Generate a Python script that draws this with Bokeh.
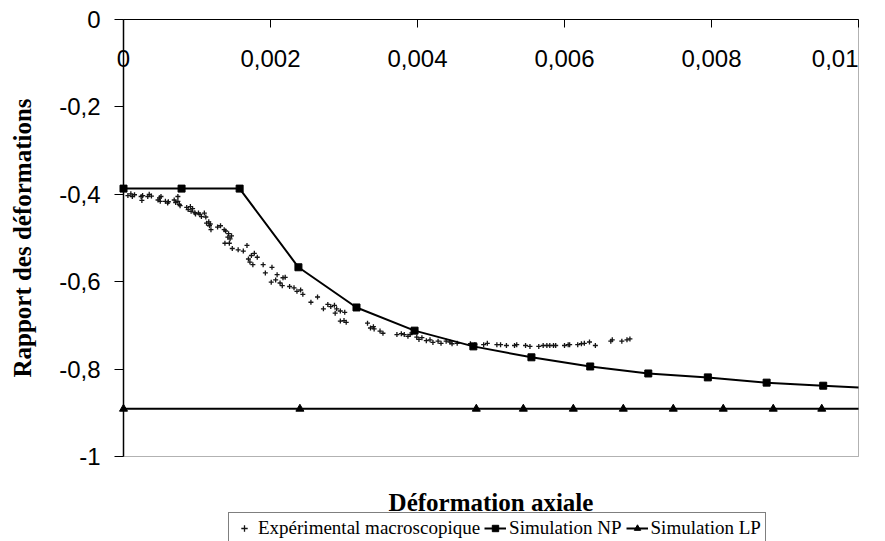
import math
from bokeh.plotting import figure
from bokeh.models import (Range1d, FixedTicker, Label, Legend, LegendItem, LinearAxis,
                          BoxAnnotation)
from bokeh.embed import file_html
from bokeh.resources import INLINE

# ---------------- data ----------------
exp_x = [0.00006, 0.00010, 0.00012, 0.00015, 0.00024, 0.00025, 0.00026, 0.00033, 0.00035, 0.00038,
         0.00047, 0.00049, 0.00051, 0.00050, 0.00057, 0.00060, 0.00061, 0.00069, 0.00071, 0.00074,
         0.00074, 0.00076, 0.00077, 0.00086, 0.00088, 0.00091, 0.00092, 0.00094, 0.00097, 0.00098,
         0.00102, 0.00104, 0.00106, 0.00110, 0.00112, 0.00113, 0.00116, 0.00118, 0.00117, 0.00119,
         0.00128, 0.00132, 0.00137, 0.00139, 0.00143, 0.00142, 0.00145, 0.00147, 0.00138, 0.00144,
         0.00148, 0.00156, 0.00163, 0.00168, 0.00170, 0.00172, 0.00174, 0.00176, 0.00178, 0.00182,
         0.00190, 0.00193, 0.00202, 0.00201, 0.00207, 0.00209, 0.00213, 0.00216, 0.00217, 0.00220,
         0.00226, 0.00232, 0.00236, 0.00241, 0.00244, 0.00255, 0.00264, 0.00272, 0.00278, 0.00282,
         0.00287, 0.00288, 0.00290, 0.00295, 0.00301, 0.00295, 0.00300, 0.00303, 0.00332, 0.00336,
         0.00340, 0.00341, 0.00349, 0.00353, 0.00372, 0.00378, 0.00382, 0.00387, 0.00390, 0.00399,
         0.00402, 0.00406, 0.00412, 0.00417, 0.00421, 0.00428, 0.00432, 0.00439, 0.00444, 0.00447,
         0.00454, 0.00472, 0.00478, 0.00490, 0.00495, 0.00508, 0.00513, 0.00521, 0.00532, 0.00535,
         0.00547, 0.00553, 0.00565, 0.00571, 0.00576, 0.00580, 0.00585, 0.00588, 0.00600, 0.00605,
         0.00607, 0.00618, 0.00623, 0.00627, 0.00634, 0.00642, 0.00663, 0.00665, 0.00678, 0.00685,
         0.00689]
exp_y = [-0.403, -0.399, -0.405, -0.401, -0.405, -0.414, -0.403, -0.405, -0.400, -0.404,
         -0.413, -0.408, -0.405, -0.416, -0.416, -0.420, -0.417, -0.413, -0.419, -0.405,
         -0.416, -0.423, -0.426, -0.430, -0.435, -0.428, -0.439, -0.433, -0.442, -0.445,
         -0.443, -0.446, -0.451, -0.443, -0.452, -0.466, -0.463, -0.468, -0.472, -0.481,
         -0.475, -0.472, -0.481, -0.484, -0.490, -0.498, -0.502, -0.495, -0.512, -0.512,
         -0.524, -0.527, -0.530, -0.517, -0.548, -0.555, -0.540, -0.561, -0.535, -0.544,
         -0.561, -0.580, -0.567, -0.601, -0.596, -0.584, -0.603, -0.609, -0.591, -0.590,
         -0.611, -0.614, -0.622, -0.619, -0.629, -0.647, -0.635, -0.662, -0.652, -0.657,
         -0.654, -0.672, -0.662, -0.667, -0.670, -0.690, -0.689, -0.693, -0.695, -0.706,
         -0.703, -0.708, -0.713, -0.718, -0.721, -0.719, -0.721, -0.725, -0.721, -0.727,
         -0.732, -0.728, -0.735, -0.733, -0.739, -0.736, -0.741, -0.736, -0.738, -0.742,
         -0.741, -0.742, -0.744, -0.744, -0.741, -0.744, -0.744, -0.746, -0.746, -0.744,
         -0.746, -0.748, -0.748, -0.746, -0.746, -0.746, -0.746, -0.746, -0.746, -0.744,
         -0.744, -0.744, -0.742, -0.741, -0.738, -0.746, -0.736, -0.733, -0.736, -0.733,
         -0.731]

# Simulation NP: markers, plus the point where the curve leaves the plot area (x = 0.01)
np_x = [0.0, 0.00079, 0.00158, 0.00238, 0.00317, 0.00396, 0.00476, 0.00555, 0.00635,
        0.00714, 0.00795, 0.00875, 0.00952, 0.01]
np_y = [-0.387, -0.387, -0.387, -0.567, -0.659, -0.712, -0.748, -0.773, -0.794,
        -0.810, -0.819, -0.831, -0.838, -0.842]

# Simulation LP: markers, plus the point where the line leaves the plot area (x = 0.01)
lp_x = [0.0, 0.0024, 0.0048, 0.00544, 0.00612, 0.0068, 0.00748, 0.00816, 0.00884, 0.0095, 0.01]
lp_y = [-0.891, -0.891, -0.891, -0.891, -0.891, -0.891, -0.891, -0.891, -0.891, -0.891, -0.891]

y_ticks = [-1.0, -0.8, -0.6, -0.4, -0.2, 0.0]
y_tick_labels = ["-1", "-0,8", "-0,6", "-0,4", "-0,2", "0"]
x_ticks = [0.0, 0.002, 0.004, 0.006, 0.008, 0.01]
x_tick_labels = ["0", "0,002", "0,004", "0,006", "0,008", "0,01"]

series_names = ["Expérimental macroscopique", "Simulation NP", "Simulation LP"]
x_title = "Déformation axiale"
y_title = "Rapport des déformations"

SANS = "Liberation Sans"
SERIF = "Liberation Serif"

# ---------------- layout (pixels) ----------------
W, H = 885, 541
PL, PR, PT, PB = 123, 858, 19, 456          # plot-area box in canvas pixels
X0, X1, Y0, Y1 = 0.0, 0.01, -1.0, 0.0       # data shown inside the box
kx = (PR - PL) / (X1 - X0)
ky = (PB - PT) / (Y1 - Y0)
x_range = Range1d(X0 - PL / kx, X1 + (W - PR) / kx)
y_range = Range1d(Y0 - (H - PB) / ky, Y1 + PT / ky)

p = figure(width=W, height=H, output_backend="svg", toolbar_location=None,
           x_range=x_range, y_range=y_range,
           x_axis_location=None, y_axis_location=None,
           min_border_left=0, min_border_right=0, min_border_top=0, min_border_bottom=0)
p.background_fill_color = "white"
p.border_fill_color = "white"
p.outline_line_color = None
p.xgrid.visible = False
p.ygrid.visible = False

# plot-area border
p.add_layout(BoxAnnotation(left=X0, right=X1, bottom=Y0, top=Y1, fill_alpha=0,
                           line_color="black", line_width=1))

# top x axis (at y = 0), ticks pointing into the plot
xa = LinearAxis(fixed_location=0, bounds=(X0, X1), ticker=FixedTicker(ticks=x_ticks))
xa.major_tick_in = 8
xa.major_tick_out = 0
xa.minor_tick_line_color = None
xa.major_label_text_color = None
xa.axis_line_color = "black"
xa.axis_line_width = 1
xa.major_tick_line_color = "black"
p.add_layout(xa, "above")

# left y axis (at x = 0)
ya = LinearAxis(fixed_location=0, bounds=(Y0, Y1), ticker=FixedTicker(ticks=y_ticks))
ya.major_label_overrides = dict(zip(y_ticks, y_tick_labels))
ya.major_tick_in = 0
ya.major_tick_out = 9
ya.minor_tick_line_color = None
ya.major_label_standoff = 14
ya.major_label_text_font = SANS
ya.major_label_text_font_size = "24px"
ya.major_label_text_color = "black"
ya.axis_line_color = "black"
ya.axis_line_width = 1.5
ya.major_tick_line_color = "black"
p.add_layout(ya, "left")

# x tick labels drawn inside the plot, below the top axis line
for i, (xt, lab) in enumerate(zip(x_ticks, x_tick_labels)):
    last = i == len(x_ticks) - 1
    p.add_layout(Label(x=xt, y=Y1, text=lab, y_offset=-39,
                       text_align="right" if last else "center",
                       text_baseline="middle",
                       text_font=SANS, text_font_size="24px", text_color="black"))

# axis titles
p.add_layout(Label(x=(X0 + X1) / 2, y=Y0, y_offset=-46, text=x_title, text_align="center",
                   text_baseline="alphabetic", text_font=SERIF, text_font_style="bold",
                   text_font_size="25px", text_color="black"))
p.add_layout(Label(x=X0, y=(Y0 + Y1) / 2, x_offset=-101, text=y_title, angle=math.pi / 2,
                   text_align="center", text_baseline="middle", text_font=SERIF,
                   text_font_style="bold", text_font_size="25px", text_color="black"))

# ---------------- series ----------------
r_exp = p.scatter(exp_x, exp_y, marker="cross", size=5, line_color="#151515", line_width=1.3)
l_lp = p.line(lp_x, lp_y, line_color="black", line_width=2)
s_lp = p.scatter(lp_x[:-1], lp_y[:-1], marker="triangle", size=8, fill_color="black", line_color="black")
l_np = p.line(np_x, np_y, line_color="black", line_width=2)
s_np = p.scatter(np_x[:-1], np_y[:-1], marker="square", size=7, fill_color="black", line_color="black")

legend = Legend(items=[LegendItem(label=series_names[0], renderers=[r_exp]),
                       LegendItem(label=series_names[1], renderers=[l_np, s_np]),
                       LegendItem(label=series_names[2], renderers=[l_lp, s_lp])],
                location=(228, -3), orientation="horizontal",
                glyph_width=22, glyph_height=16, label_standoff=3, spacing=4,
                padding=4, margin=0,
                label_text_font=SERIF, label_text_font_size="19px", label_text_color="black",
                border_line_color="black", border_line_width=1,
                background_fill_color="white", background_fill_alpha=1)
p.add_layout(legend)

open("out.html", "w").write(file_html(p, INLINE))
